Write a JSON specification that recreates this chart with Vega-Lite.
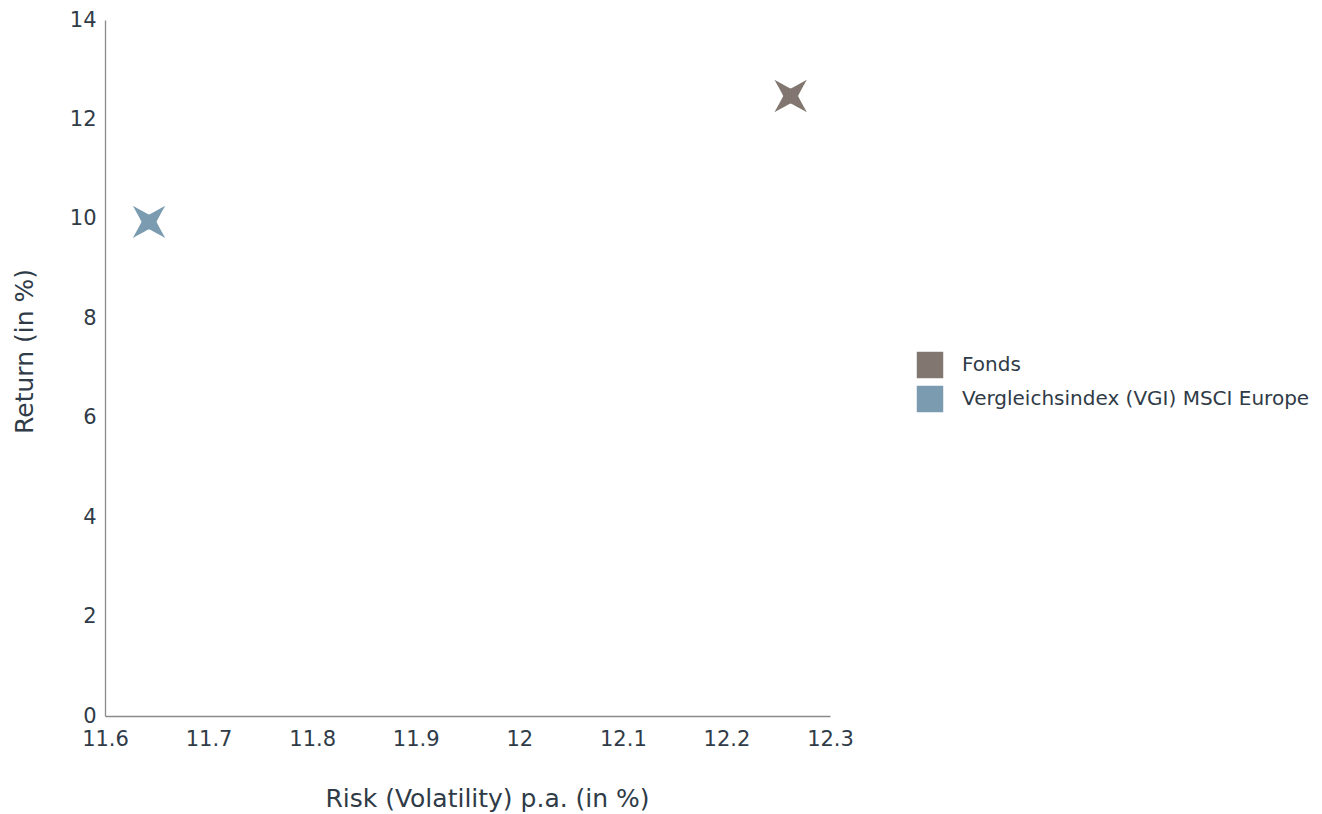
{
  "$schema": "https://vega.github.io/schema/vega-lite/v6.json",
  "width": 725,
  "height": 696,
  "autosize": {"type": "none"},
  "padding": {"left": 105, "top": 20, "right": 492, "bottom": 98},
  "background": "white",
  "config": {
    "view": {"stroke": null},
    "font": "DejaVu Sans",
    "axis": {
      "grid": false,
      "ticks": false,
      "domainColor": "#8a8a8a",
      "domainWidth": 1.3,
      "labelColor": "#2f3b47",
      "titleColor": "#2f3b47",
      "labelFontSize": 21,
      "titleFontSize": 25,
      "titleFontWeight": "normal",
      "labelFont": "DejaVu Sans",
      "titleFont": "DejaVu Sans"
    },
    "legend": {
      "labelFontSize": 20,
      "labelColor": "#2f3b47",
      "labelFont": "DejaVu Sans",
      "labelLimit": 400
    }
  },
  "data": {
    "values": [
      {"series": "Fonds", "risk": 12.262, "ret": 12.47},
      {"series": "Vergleichsindex (VGI) MSCI Europe", "risk": 11.6425, "ret": 9.94}
    ]
  },
  "mark": {
    "type": "point",
    "filled": true,
    "opacity": 1,
    "size": 1050,
    "shape": "M-1,-1 Q-0.2,-0.55 0,-0.46 Q0.2,-0.55 1,-1 Q0.55,-0.2 0.46,0 Q0.55,0.2 1,1 Q0.2,0.55 0,0.46 Q-0.2,0.55 -1,1 Q-0.55,0.2 -0.46,0 Q-0.55,-0.2 -1,-1 Z"
  },
  "encoding": {
    "x": {
      "field": "risk",
      "type": "quantitative",
      "title": "Risk (Volatility) p.a. (in %)",
      "scale": {"domain": [11.6, 12.3], "nice": false, "zero": false},
      "axis": {
        "values": [11.6, 11.7, 11.8, 11.9, 12, 12.1, 12.2, 12.3],
        "labelExpr": "format(datum.value, '~g')",
        "labelPadding": 12,
        "titleX": 382,
        "titleY": 95,
        "titleAlign": "center",
        "titleBaseline": "bottom",
        "labelFlush": false
      }
    },
    "y": {
      "field": "ret",
      "type": "quantitative",
      "title": "Return (in %)",
      "scale": {"domain": [0, 14], "nice": false},
      "axis": {
        "values": [0, 2, 4, 6, 8, 10, 12, 14],
        "labelPadding": 9,
        "titleX": -68,
        "titleY": 331,
        "titleAlign": "center",
        "titleBaseline": "bottom",
        "labelFlush": false
      }
    },
    "color": {
      "field": "series",
      "type": "nominal",
      "title": null,
      "scale": {"domain": ["Fonds", "Vergleichsindex (VGI) MSCI Europe"], "range": ["#827770", "#7a9bb0"]},
      "legend": {
        "orient": "none",
        "legendX": 811,
        "legendY": 331,
        "symbolType": "square",
        "symbolSize": 700,
        "symbolOpacity": 1,
        "rowPadding": 6,
        "labelOffset": 18
      }
    }
  }
}
